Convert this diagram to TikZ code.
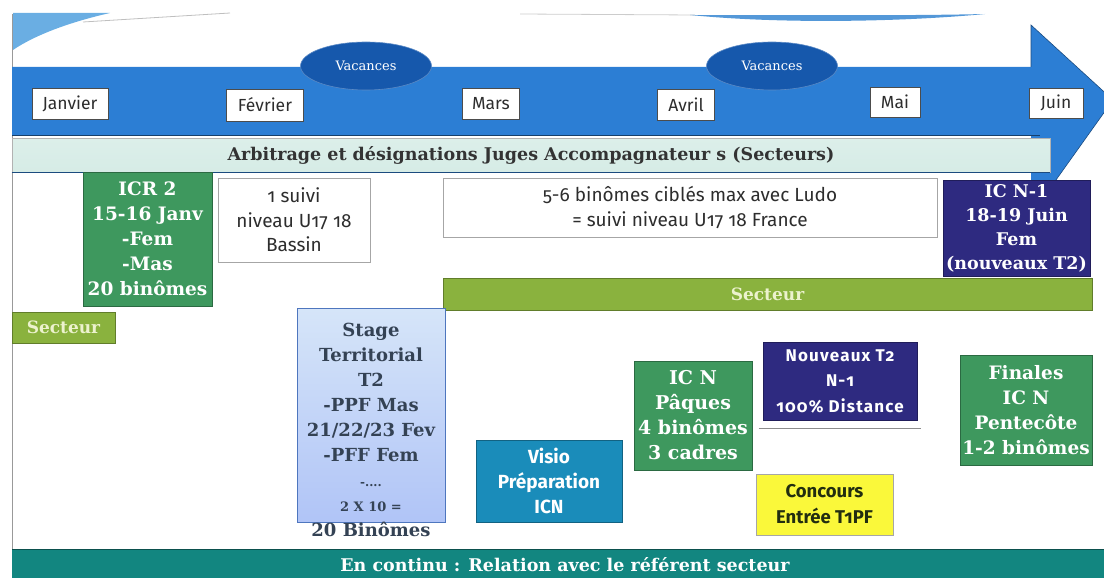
\documentclass[tikz,border=0pt]{standalone}
\usepackage{fontspec}
\setmainfont{DejaVu Serif}
\newfontfamily\sansf{Fira Sans}[Numbers=OldStyle]
\usetikzlibrary{shadings,shapes.geometric}
\definecolor{bandblue}{RGB}{44,126,212}
\definecolor{ellblue}{RGB}{22,88,172}
\definecolor{mint}{RGB}{214,236,230}
\definecolor{gbox}{RGB}{62,152,94}
\definecolor{navy}{RGB}{46,42,128}
\definecolor{olive}{RGB}{138,178,62}
\definecolor{teal}{RGB}{18,134,128}
\definecolor{visio}{RGB}{26,140,186}
\definecolor{yel}{RGB}{250,248,58}
\definecolor{stagefill}{RGB}{196,218,246}
\definecolor{stageline}{RGB}{78,118,190}
\definecolor{stagetext}{RGB}{52,66,84}
\definecolor{darkt}{RGB}{45,45,45}
\definecolor{secttext}{RGB}{236,242,206}
\begin{document}
\begin{tikzpicture}[x=1pt,y=-1pt,
  month/.style={draw=black!70,fill=white,line width=0.8pt,inner sep=0pt,font=\sansf\fontsize{17.5}{20}\selectfont,text=darkt},
  vac/.style={ellipse,fill=ellblue,draw=ellblue!70!white,line width=0.6pt,minimum width=131pt,minimum height=48pt,font=\fontsize{13}{15}\selectfont,text=white},
  gbx/.style={fill=gbox,draw=gbox!70!black,line width=0.6pt,text=white,align=center,inner sep=0pt,font=\bfseries\fontsize{18.5}{25}\selectfont},
  nbx/.style={fill=navy,draw=navy!70!black,line width=0.6pt,text=white,align=center,inner sep=0pt},
  wbx/.style={fill=white,draw=black!35,line width=0.8pt,text=darkt,align=center,inner sep=0pt,font=\sansf\fontsize{19}{24.5}\selectfont},
  sbar/.style={fill=olive,draw=olive!70!black,line width=0.6pt,text=secttext,inner sep=0pt,font=\bfseries\fontsize{17}{20}\selectfont},
]
\useasboundingbox (0,0) rectangle (1104,578);
\clip (0,0) rectangle (1104,578);
% decorations at top
\fill[cyan!70!blue!60] (13,13) -- (110,13) .. controls (70,22) and (35,35) .. (13,50) -- cycle;
\draw[black!25,line width=0.8pt] (83,22) -- (230,13);
\draw[black!20,line width=0.8pt] (520,14) -- (695,15);
\fill[cyan!60!blue!70] (690,15) .. controls (780,24) and (900,22) .. (985,14) .. controls (900,16) and (780,15) .. (690,15) -- cycle;
\draw[black!40,line width=0.8pt] (12,14) -- (12,578);
% main arrow
\fill[bandblue] (12,67) -- (1031,67) -- (1031,25) -- (1113,100) -- (1031,215) -- (1031,135) -- (12,135) -- cycle;
\draw[bandblue!60!black,line width=0.6pt] (1031,67) -- (1031,25) -- (1113,100) -- (1031,215);
\draw[bandblue!50!black,line width=1pt] (12,135) -- (1040,135);
% vacances
\node[vac] (vac1) at (366,66) {Vacances};
\node[vac] (vac2) at (772,66) {Vacances};
% months
\node[month,minimum width=76pt,minimum height=31pt] (jan) at (70,104) {Janvier};
\node[month,minimum width=77pt,minimum height=32pt] (feb) at (265,105) {Février};
\node[month,minimum width=57pt,minimum height=31pt] (mar) at (491,104) {Mars};
\node[month,minimum width=57pt,minimum height=31pt] (avr) at (686,105) {Avril};
\node[month,minimum width=50pt,minimum height=30pt] (mai) at (895,102) {Mai};
\node[month,minimum width=54pt,minimum height=30pt] (jui) at (1056,103) {Juin};
% arbitrage bar
\node[top color=mint!85!white,bottom color=mint,draw=black!30,line width=0.6pt,minimum width=1038pt,minimum height=34pt,inner sep=0pt,font=\bfseries\fontsize{17.5}{20}\selectfont,text=black!80] (arb) at (531,155) {Arbitrage et désignations Juges Accompagnateur s (Secteurs)};
\draw[bandblue!60!black,line width=1pt] (arb.south west) -- (arb.south east);
% boxes row 1
\node[gbx,minimum width=129pt,minimum height=134pt] (icr) at (147.5,239) {ICR 2\\15-16 Janv\\-Fem\\-Mas\\20 binômes};
\node[wbx,minimum width=152pt,minimum height=84pt] (suivi) at (294,220) {1 suivi\\niveau U17 18\\Bassin};
\node[wbx,minimum width=494pt,minimum height=59pt] (ludo) at (690,207.5) {5-6 binômes ciblés max avec Ludo\\= suivi niveau U17 18 France};
\node[nbx,minimum width=147pt,minimum height=96pt,font=\bfseries\fontsize{17.5}{24}\selectfont] (icn1) at (1016.5,228) {IC N-1\\18-19 Juin\\Fem\\(nouveaux T2)};
% secteur bars
\node[sbar,minimum width=649pt,minimum height=32pt] (sect) at (767.5,294) {Secteur};
\node[sbar,minimum width=103pt,minimum height=31pt] (sect2) at (63.5,327.5) {Secteur};
% stage territorial
\node[top color=stagefill!70!white,bottom color=stagefill!90!blue,draw=stageline,line width=0.8pt,minimum width=148pt,minimum height=214pt,inner sep=0pt] (stage) at (371,415) {};
\node[text=stagetext,align=center,inner sep=0pt,font=\bfseries\fontsize{18}{25}\selectfont] (stagetxt) at (371,430) {Stage\\Territorial\\T2\\-PPF Mas\\21/22/23 Fev\\-PFF Fem\\{\fontsize{12}{25}\selectfont -....}\\{\fontsize{13}{25}\selectfont 2 X 10 =}\\20 Binômes};
% lower boxes
\node[fill=visio,draw=visio!70!black,line width=0.6pt,text=white,align=center,inner sep=0pt,minimum width=146pt,minimum height=82pt,font=\sansf\bfseries\fontsize{19}{25}\selectfont] (visio) at (549,481) {Visio\\Préparation\\ICN};
\node[gbx,minimum width=118pt,minimum height=109pt,font=\bfseries\fontsize{19}{25}\selectfont] (paq) at (693,415.5) {IC N\\Pâques\\4 binômes\\3 cadres};
\node[nbx,minimum width=154pt,minimum height=78pt,font=\sansf\bfseries\fontsize{17}{25.5}\selectfont,text=white] (nouv) at (840,381) {\addfontfeature{LetterSpace=7}Nouveaux T2\\\addfontfeature{LetterSpace=7}N-1\\\addfontfeature{LetterSpace=7}100\% Distance};
\draw[black!45,line width=1.5pt] ([shift={(-4,8)}]nouv.south west) -- ([shift={(4,8)}]nouv.south east);
\node[fill=yel,draw=black!35,line width=0.8pt,text=black!75!olive,align=center,inner sep=0pt,minimum width=137pt,minimum height=61pt,font=\sansf\bfseries\fontsize{18.5}{26}\selectfont] (conc) at (824.5,504.5) {Concours\\Entrée T1PF};
\node[gbx,minimum width=132pt,minimum height=110pt,font=\bfseries\fontsize{18.5}{25}\selectfont] (fin) at (1026,410) {Finales\\IC N\\Pentecôte\\1-2 binômes};
% bottom bar
\fill[teal] (12,549) rectangle (1110,590);
\draw[teal!60!black,line width=0.8pt] (12,549) -- (1110,549);
\node[text=white,inner sep=0pt,font=\bfseries\fontsize{17.5}{20}\selectfont] (cont) at (565,565) {En continu : Relation avec le référent secteur};
\end{tikzpicture}
\end{document}
